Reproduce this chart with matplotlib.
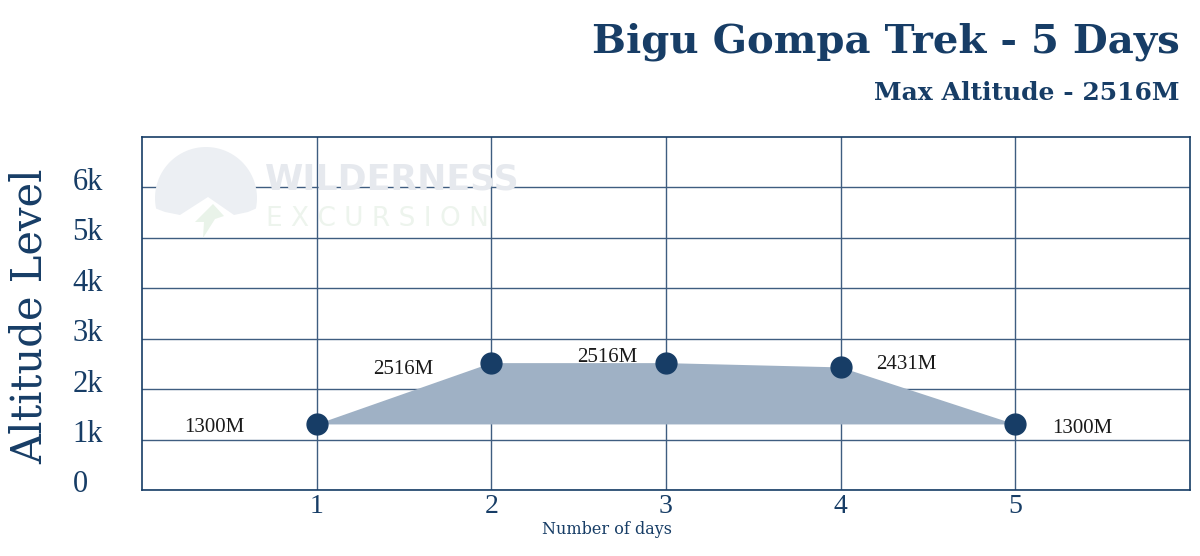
import matplotlib
matplotlib.use("Agg")
import matplotlib.pyplot as plt
import matplotlib.transforms as mtrans
from matplotlib.patches import Polygon
import numpy as np

days = [1, 2, 3, 4, 5]
altitudes = [1300, 2516, 2516, 2431, 1300]
labels = ["1300M", "2516M", "2516M", "2431M", "1300M"]
ytick_vals = [0, 1000, 2000, 3000, 4000, 5000, 6000]
ytick_labels = ["0", "1k", "2k", "3k", "4k", "5k", "6k"]
title = "Bigu Gompa Trek - 5 Days"
subtitle = "Max Altitude - 2516M"

NAVY = "#173d66"
GRID = "#3f5d80"
FILL = "#9fb1c5"
SERIF = ["Liberation Serif", "DejaVu Serif"]
WIDE = ["DejaVu Serif"]

fig = plt.figure(figsize=(12, 5.56), dpi=100)
ax = fig.add_axes([142/1200, 1-490/556, (1190-142)/1200, (490-137)/556])
ax.set_xlim(0, 6)
ax.set_ylim(0, 7000)


def fpts(pixels):
    return [(x/1200, 1-y/556) for x, y in pixels]


# faint watermark logo + text
cx, cy, r = 206, 198, 51
th = np.radians(np.linspace(-12, 192, 60))
arc = [(cx + r*np.cos(t), cy - r*np.sin(t)) for t in th]
logo = arc + [(165, 212), (180, 215), (208, 197), (234, 215), (248, 212)]
fig.patches.append(Polygon(fpts(logo), closed=True, transform=fig.transFigure,
                           facecolor="#eceff3", edgecolor="none", zorder=0))
bolt = [(213, 204), (224, 216), (215, 219), (203, 238), (204, 222), (195, 222)]
fig.patches.append(Polygon(fpts(bolt), closed=True, transform=fig.transFigure,
                           facecolor="#e9f3e9", edgecolor="none", zorder=0))
fig.text(265/1200, 1-179/556, "WILDERNESS", fontsize=25, fontweight="bold",
         family="DejaVu Sans", color="#e6e9ee", va="center", ha="left", zorder=0)
fig.text(266/1200, 1-219/556, "E X C U R S I O N", fontsize=19,
         family="DejaVu Sans", color="#edf4ed", va="center", ha="left", zorder=0)
ax.patch.set_alpha(0)

ax.set_xticks(days)
ax.set_yticks(ytick_vals)
ax.set_xticklabels([str(d) for d in days], fontsize=20, color=NAVY, family=SERIF)
ax.set_yticklabels(ytick_labels, fontsize=22, color=NAVY, family=SERIF)
ax.tick_params(length=0)
ax.tick_params(axis="x", pad=3)
ax.tick_params(axis="y", pad=50)
shift = mtrans.ScaledTranslation(0, 5/100, fig.dpi_scale_trans)
for t in ax.get_yticklabels():
    t.set_ha("left")
    t.set_va("center")
    t.set_transform(t.get_transform() + shift)
ax.grid(True, color=GRID, linewidth=1.0)
ax.set_axisbelow(True)
for s in ax.spines.values():
    s.set_color(NAVY)
    s.set_linewidth(1.2)

poly = Polygon(list(zip(days, altitudes)), closed=True, facecolor=FILL,
               edgecolor="none", zorder=2)
ax.add_patch(poly)
ax.plot(days, altitudes, linestyle="none", marker="o", markersize=15,
        color=NAVY, zorder=3)

offsets = [(-72, -3, "right"), (-58, -6, "right"), (-29, 6, "right"),
           (35, 3, "left"), (37, -4, "left")]
for d, a, lab, (dx, dy, ha) in zip(days, altitudes, labels, offsets):
    ax.annotate(lab, (d, a), xytext=(dx, dy), textcoords="offset pixels",
                ha=ha, va="center", fontsize=15, family=SERIF, color="#1a1a1a",
                zorder=4)

fig.text(1180/1200, 1-42/556, title, fontsize=29, fontweight="bold",
         family=WIDE, color=NAVY, ha="right", va="center")
fig.text(1180/1200, 1-93/556, subtitle, fontsize=18, fontweight="bold",
         family=WIDE, color=NAVY, ha="right", va="center")
fig.text(30/1200, 1-316/556, "Altitude Level", fontsize=30, rotation=90,
         family=WIDE, color=NAVY, ha="center", va="center")
fig.text(607/1200, 1-529/556, "Number of days", fontsize=11.5,
         family=WIDE, color=NAVY, ha="center", va="center")

fig.savefig("out.png", dpi=100, facecolor="white")
